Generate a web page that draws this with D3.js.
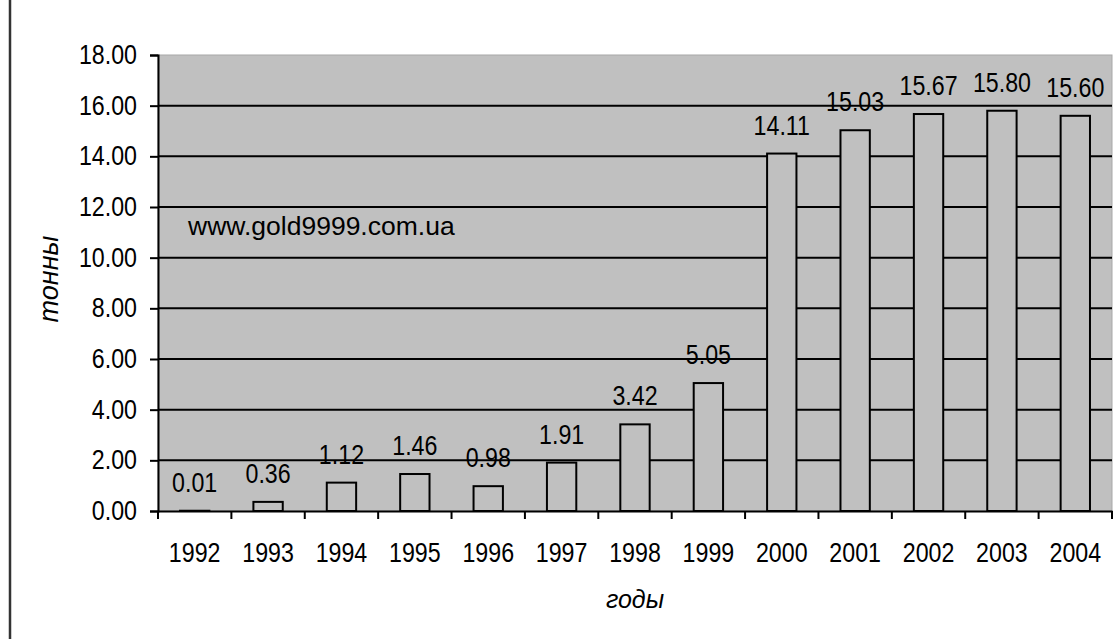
<!DOCTYPE html>
<html>
<head>
<meta charset="utf-8">
<script src="https://cdn.jsdelivr.net/npm/d3@7"></script>
<style>
  body { margin: 0; background: #fff; }
  svg { display: block; }
  .num { font-family: "Liberation Sans", Arial, sans-serif; font-size: 27px; fill: #000; }
</style>
</head>
<body>
<div id="main"></div>
<script>
// data
var years = ["1992","1993","1994","1995","1996","1997","1998","1999","2000","2001","2002","2003","2004"];
var tonnes = [0.01, 0.36, 1.12, 1.46, 0.98, 1.91, 3.42, 5.05, 14.11, 15.03, 15.67, 15.80, 15.60];
var yTicks = [0, 2, 4, 6, 8, 10, 12, 14, 16, 18];

const w = 1117;
const h = 639;
const padL = 158, padR = 1112, padT = 55, padB = 511;
const squeeze = 0.86; // the digits in the original are narrow

const svg = d3.select("#main").append("svg").attr("width", w).attr("height", h);

// left frame line
svg.append("line")
    .attr("x1", 10).attr("x2", 10)
    .attr("y1", 0).attr("y2", 639)
    .attr("stroke", "#333").attr("stroke-width", 2.5);

const xScale = d3.scaleBand().domain(years).range([padL, padR]).padding(0);
const yScale = d3.scaleLinear().domain([0, 18]).range([padB, padT]);

// plot area
svg.append("rect")
    .attr("x", padL).attr("y", padT)
    .attr("width", padR - padL).attr("height", padB - padT)
    .attr("fill", "#c0c0c0")
    .attr("stroke", "#a8a8a8").attr("stroke-width", 1);

// gridlines
svg.append("g")
    .selectAll("line")
    .data(yTicks.filter(d => d > 0 && d < 18))
    .enter()
    .append("line")
    .attr("x1", padL).attr("x2", padR)
    .attr("y1", d => yScale(d)).attr("y2", d => yScale(d))
    .attr("stroke", "#000").attr("stroke-width", 2);

// bars
const bw = xScale.bandwidth() * 0.4;
svg.selectAll("rect.bar")
    .data(tonnes)
    .enter()
    .append("rect")
    .attr("class", "bar")
    .attr("x", (d, i) => xScale(years[i]) + (xScale.bandwidth() - bw) / 2)
    .attr("y", d => yScale(d))
    .attr("width", bw)
    .attr("height", d => padB - yScale(d))
    .attr("fill", "#c0c0c0")
    .attr("stroke", "#000")
    .attr("stroke-width", 2);

// value labels
svg.selectAll("text.val")
    .data(tonnes)
    .enter()
    .append("text")
    .attr("class", "num val")
    .attr("transform", (d, i) => "translate(" + (xScale(years[i]) + xScale.bandwidth() / 2) + "," + (yScale(d) - 19) + ") scale(" + squeeze + ",1)")
    .attr("text-anchor", "middle")
    .text(d => d.toFixed(2));

// y axis
const yAxis = d3.axisLeft(yScale).tickValues(yTicks).tickFormat(d3.format(".2f"))
    .tickSize(8).tickPadding(21 / squeeze - 8);
const gy = svg.append("g")
    .attr("transform", "translate(" + padL + ",0)")
    .call(yAxis);
gy.attr("font-size", null).attr("font-family", null);
gy.select(".domain").attr("stroke", "#000").attr("stroke-width", 2);
gy.selectAll(".tick line").attr("stroke", "#000").attr("stroke-width", 2);
gy.selectAll(".tick text").attr("class", "num").attr("transform", "scale(" + squeeze + ",1)");

// x axis with ticks at category boundaries
const xAxis = d3.axisBottom(xScale).tickSize(0).tickPadding(32);
const gx = svg.append("g")
    .attr("transform", "translate(0," + padB + ")")
    .call(xAxis);
gx.attr("font-size", null).attr("font-family", null);
gx.select(".domain").attr("stroke", "#000").attr("stroke-width", 2);
gx.selectAll(".tick text").attr("class", "num").attr("transform", "scale(" + squeeze + ",1)");
gx.selectAll("line.bound")
    .data(years.concat(["end"]))
    .enter()
    .append("line")
    .attr("class", "bound")
    .attr("x1", (d, i) => padL + i * xScale.step())
    .attr("x2", (d, i) => padL + i * xScale.step())
    .attr("y1", 0).attr("y2", 8)
    .attr("stroke", "#000").attr("stroke-width", 2);

// watermark
svg.append("text")
    .attr("x", 188).attr("y", 235)
    .style("font-family", "'Liberation Sans', Arial, sans-serif")
    .style("font-size", "26.5px")
    .text("www.gold9999.com.ua");

// axis titles
svg.append("text")
    .attr("x", (padL + padR) / 2).attr("y", 608)
    .attr("text-anchor", "middle")
    .style("font-family", "'Liberation Sans', Arial, sans-serif")
    .style("font-style", "italic")
    .style("font-size", "25px")
    .text("годы");

svg.append("text")
    .attr("transform", "translate(58,279) rotate(-90)")
    .attr("text-anchor", "middle")
    .style("font-family", "'Liberation Sans', Arial, sans-serif")
    .style("font-style", "italic")
    .style("font-size", "27px")
    .text("тонны");
</script>
</body>
</html>
